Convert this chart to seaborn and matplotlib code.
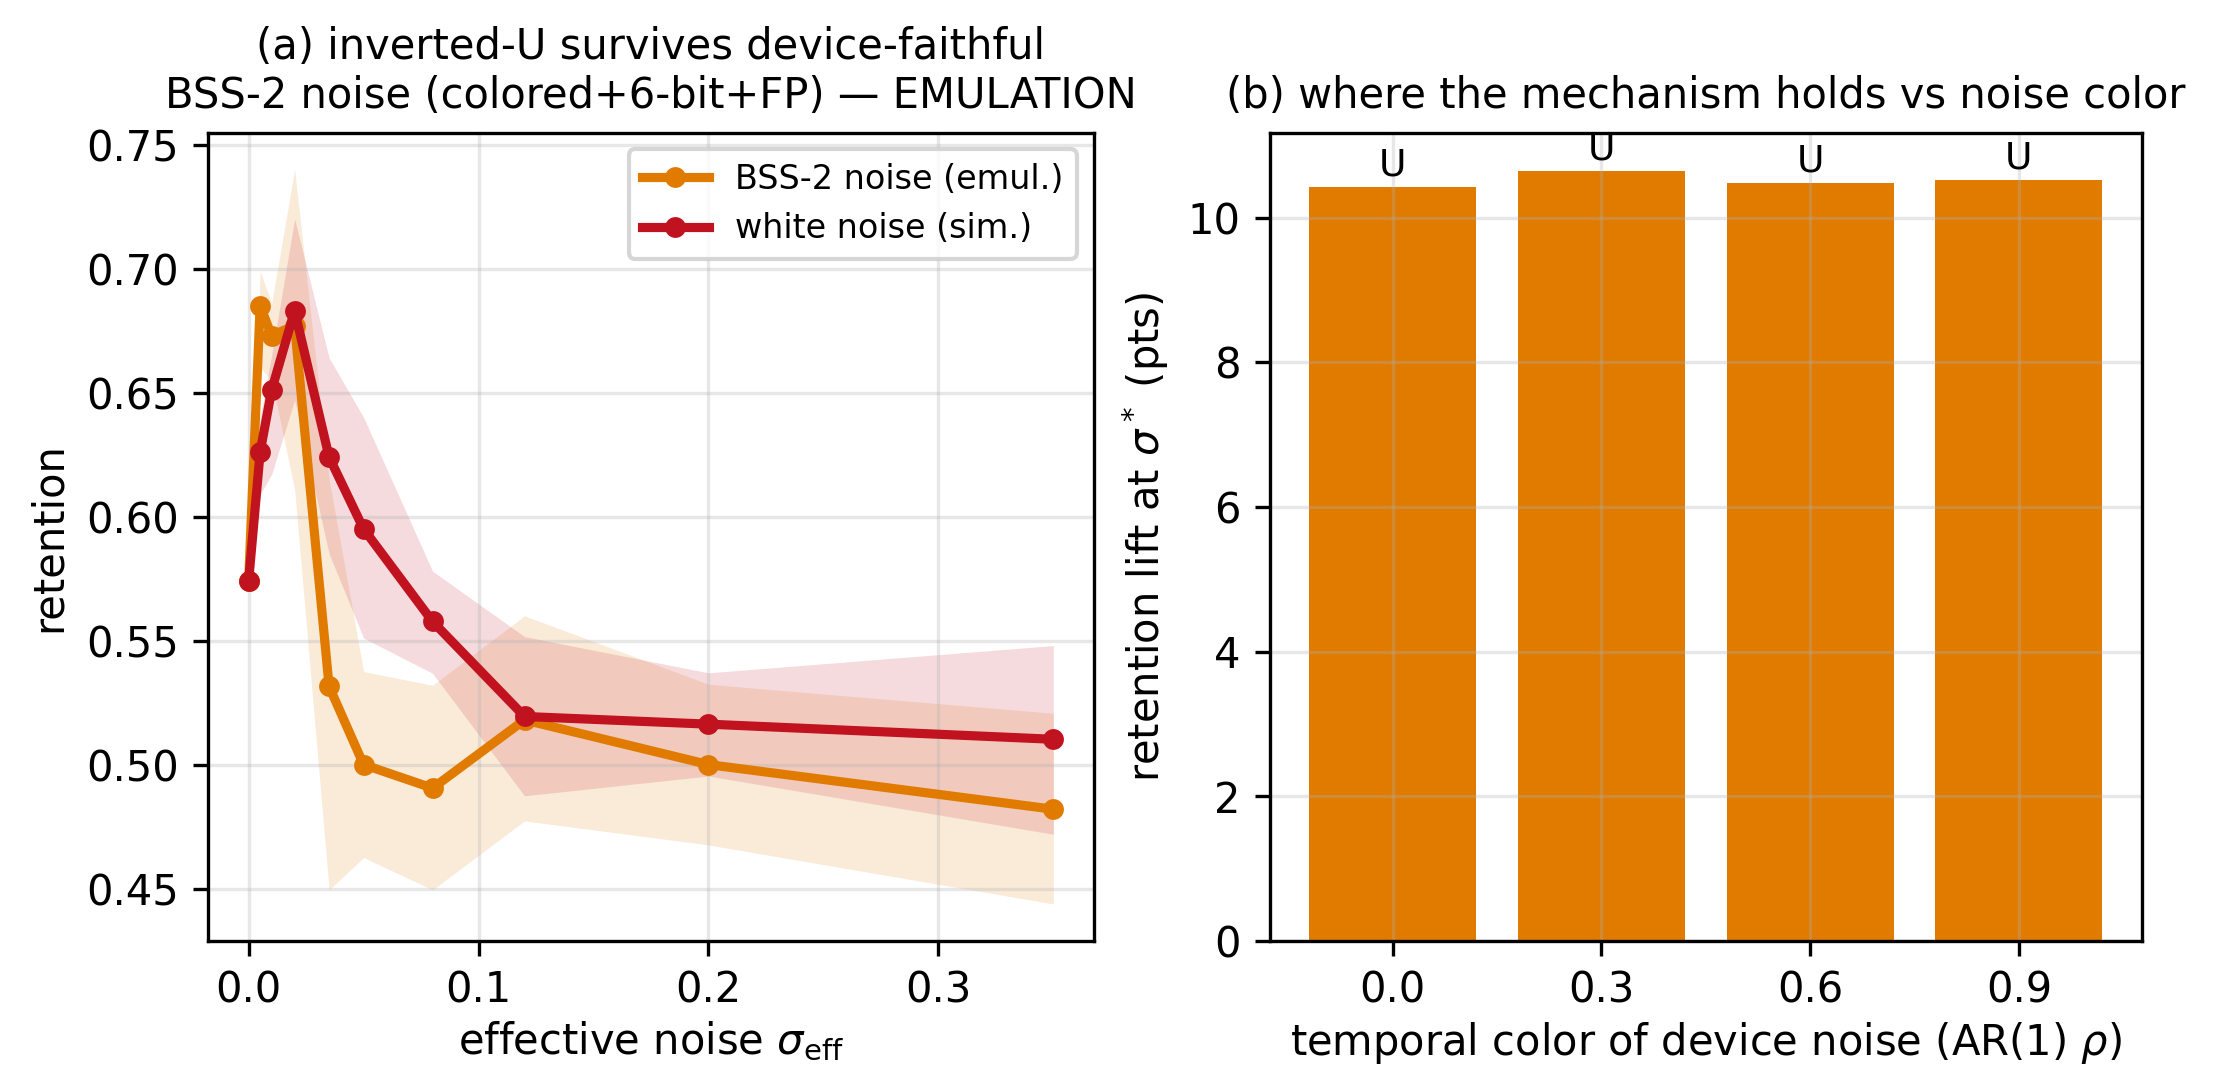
import seaborn as sns
import matplotlib.pyplot as plt
import pandas as pd

# panel (a) data
sigma = [0.0, 0.005, 0.01, 0.02, 0.035, 0.05, 0.08, 0.12, 0.2, 0.35]
bss_mean = [0.574, 0.685, 0.673, 0.677, 0.5315, 0.500, 0.4905, 0.518, 0.500, 0.482]
bss_lo = [0.574, 0.660, 0.655, 0.611, 0.4495, 0.4625, 0.4495, 0.4773, 0.4676, 0.4438]
bss_hi = [0.574, 0.699, 0.686, 0.740, 0.615, 0.5375, 0.532, 0.560, 0.5324, 0.5207]
white_mean = [0.574, 0.626, 0.651, 0.683, 0.624, 0.595, 0.5577, 0.5194, 0.5163, 0.5102]
white_lo = [0.574, 0.609, 0.617, 0.647, 0.585, 0.551, 0.5368, 0.4874, 0.4954, 0.4719]
white_hi = [0.574, 0.640, 0.665, 0.720, 0.664, 0.640, 0.578, 0.5516, 0.537, 0.548]

# panel (b) data
rho_labels = ["0.0", "0.3", "0.6", "0.9"]
lift = [10.43, 10.65, 10.48, 10.52]
shape = ["U", "U", "U", "U"]

orange = "#e07b00"
red = "#c1121f"

plt.rcParams['font.family'] = ['DejaVu Sans']
fig = plt.figure(figsize=(7.43, 3.56), dpi=300)
ax1 = fig.add_axes([0.0935, 0.1192, 0.4906 - 0.0935, 0.8758 - 0.1192])
ax2 = fig.add_axes([0.5696, 0.1192, 0.961 - 0.5696, 0.8758 - 0.1192])

df = pd.DataFrame({"sigma": sigma, "bss": bss_mean, "white": white_mean})

ax1.fill_between(sigma, bss_lo, bss_hi, color=orange, alpha=0.15, linewidth=0)
ax1.fill_between(sigma, white_lo, white_hi, color=red, alpha=0.15, linewidth=0)
sns.lineplot(data=df, x="sigma", y="bss", ax=ax1, color=orange, marker="o",
             markersize=5, markeredgewidth=0, linewidth=2.2, label="BSS-2 noise (emul.)")
sns.lineplot(data=df, x="sigma", y="white", ax=ax1, color=red, marker="o",
             markersize=5, markeredgewidth=0, linewidth=2.2, label="white noise (sim.)")
ax1.set_xlabel(r"effective noise $\sigma_{\rm eff}$", fontsize=10, labelpad=2)
ax1.set_ylabel("retention", fontsize=10)
ax1.set_title("(a) inverted-U survives device-faithful\nBSS-2 noise (colored+6-bit+FP) — EMULATION", fontsize=10)
ax1.set_xticks([0.0, 0.1, 0.2, 0.3])
ax1.set_yticks([0.45, 0.50, 0.55, 0.60, 0.65, 0.70, 0.75])
ax1.tick_params(labelsize=10)
ax1.grid(alpha=0.3)
ax1.legend(loc="upper right", fontsize=8)

bdf = pd.DataFrame({"rho": rho_labels, "lift": lift})
sns.barplot(data=bdf, x="rho", y="lift", ax=ax2, color=orange, saturation=1, width=0.8)
for i, (v, s) in enumerate(zip(lift, shape)):
    ax2.text(i, v + 0.05, s, ha="center", va="bottom", fontsize=9)
ax2.set_xlim(-0.59, 3.59)
ax2.set_ylim(0, 11.18)
ax2.set_xlabel(r"temporal color of device noise (AR(1) $\rho$)", fontsize=10, labelpad=2)
ax2.set_ylabel(r"retention lift at $\sigma^*$ (pts)", fontsize=10)
ax2.set_title("(b) where the mechanism holds vs noise color", fontsize=10)
ax2.tick_params(labelsize=10)
ax2.grid(alpha=0.3)

fig.savefig("out.png", dpi=300)
